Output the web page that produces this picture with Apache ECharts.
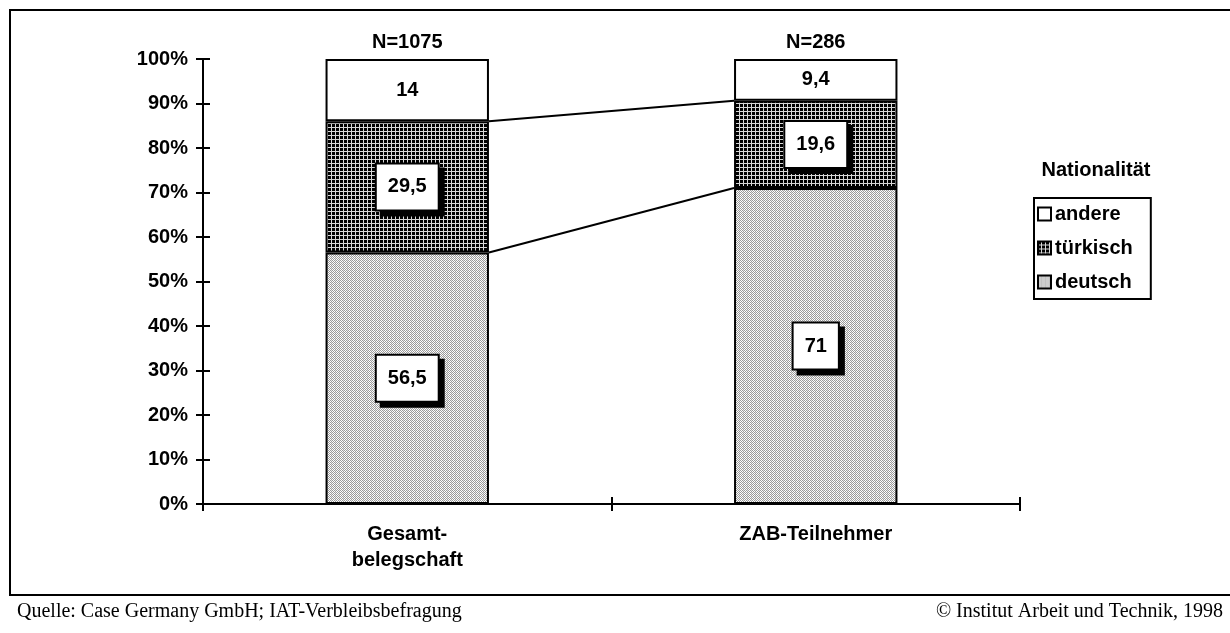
<!DOCTYPE html>
<html>
<head>
<meta charset="utf-8">
<script src="https://cdn.jsdelivr.net/npm/echarts@6/dist/echarts.min.js"></script>
<style>
html,body{margin:0;padding:0;background:#fff;}
#chart{width:1230px;height:633px;}
</style>
</head>
<body>
<div id="chart"></div>
<script>
// ---- data ----
const categories = ['Gesamt-\nbelegschaft', 'ZAB-Teilnehmer'];
const nLabels = ['N=1075', 'N=286'];
const deutsch = [56.5, 71];
const tuerkisch = [29.5, 19.6];
const andere = [14, 9.4];
const legendTitle = 'Nationalität';
const sourceText = 'Quelle: Case Germany GmbH; IAT-Verbleibsbefragung';
const copyrightText = '© Institut Arbeit und Technik, 1998';

// ---- patterns ----
function makePattern(draw) {
  const c = document.createElement('canvas');
  c.width = 4; c.height = 4;
  const ctx = c.getContext('2d');
  draw(ctx);
  return { image: c, repeat: 'repeat' };
}
const patDeutsch = makePattern(ctx => {
  ctx.fillStyle = '#ffffff'; ctx.fillRect(0, 0, 4, 4);
  ctx.fillStyle = '#9a9a9a';
  const pts = [[0,0],[2,0],[1,1],[3,1],[0,2],[2,2],[1,3],[3,3]];
  pts.forEach(p => ctx.fillRect(p[0], p[1], 1, 1));
  ctx.fillStyle = '#e6e6e6';
  ctx.fillRect(3, 0, 1, 1); ctx.fillRect(3, 2, 1, 1);
});
const patTuerk = makePattern(ctx => {
  ctx.fillStyle = '#000000'; ctx.fillRect(0, 0, 4, 4);
  ctx.fillStyle = '#d8d8d8';
  ctx.fillRect(3, 0, 1, 4);
  ctx.fillRect(0, 3, 4, 1);
});

const FONT = '"Liberation Sans", Arial, sans-serif';
const FS = 20;
const fmt = v => String(v).replace('.', ',');
const boxLabel = {
  show: true, position: 'inside',
  formatter: p => fmt(p.value),
  fontFamily: FONT, fontWeight: 'bold', fontSize: FS, color: '#000', lineHeight: 20,
  backgroundColor: '#fff', borderColor: '#000', borderWidth: 2,
  padding: [13, 11, 12, 11],
  shadowColor: '#000', shadowBlur: 0, shadowOffsetX: 5, shadowOffsetY: 5
};
const barItem = (color) => ({ color: color, borderColor: '#000', borderWidth: 2 });
const BAR_FRAC = 0.4;

const connectors = [
  [0, deutsch[0], deutsch[1]],
  [0, deutsch[0] + tuerkisch[0], deutsch[1] + tuerkisch[1]]
];

const chart = echarts.init(document.getElementById('chart'), null, { renderer: 'canvas' });
chart.setOption({
  animation: false,
  backgroundColor: '#fff',
  title: {
    text: legendTitle, left: 1096, top: 160, textAlign: 'center', padding: 0,
    textStyle: { fontFamily: FONT, fontWeight: 'bold', fontSize: FS, color: '#000' }
  },
  legend: {
    data: ['andere', 'türkisch', 'deutsch'],
    orient: 'vertical', left: 1034, top: 198, icon: 'rect',
    borderColor: '#000', borderWidth: 2, padding: [5, 18, 6, 3],
    itemWidth: 13, itemHeight: 13, itemGap: 12,
    textStyle: { fontFamily: FONT, fontWeight: 'bold', fontSize: FS, color: '#000', lineHeight: 22, padding: [0, 0, 0, -1] }
  },
  grid: { left: 203, right: 210, top: 59, bottom: 129 },
  xAxis: [
    {
      type: 'category', data: categories, position: 'bottom',
      axisLine: { lineStyle: { color: '#000', width: 2 } },
      axisTick: { show: true, length: 7, lineStyle: { color: '#000', width: 2 } },
      axisLabel: { fontFamily: FONT, fontWeight: 'bold', fontSize: FS, color: '#000', margin: 17, lineHeight: 26 }
    },
    {
      type: 'category', data: categories, position: 'bottom',
      axisLine: { show: false },
      axisTick: { show: true, inside: true, length: 7, lineStyle: { color: '#000', width: 2 } },
      axisLabel: { show: false }
    }
  ],
  yAxis: [
    {
      type: 'value', min: 0, max: 100, interval: 10,
      axisLine: { show: true, lineStyle: { color: '#000', width: 2 } },
      axisTick: { show: true, length: 7, lineStyle: { color: '#000', width: 2 } },
      splitLine: { show: false },
      axisLabel: { formatter: v => v + '%', fontFamily: FONT, fontWeight: 'bold', fontSize: FS, color: '#000', margin: 15 }
    },
    {
      type: 'value', min: 0, max: 100, interval: 10, position: 'left',
      axisLine: { show: false },
      axisTick: { show: true, inside: true, length: 7, lineStyle: { color: '#000', width: 2 } },
      splitLine: { show: false },
      axisLabel: { show: false }
    }
  ],
  series: [
    {
      name: 'deutsch', type: 'bar', stack: 'total', barWidth: (BAR_FRAC * 100) + '%',
      data: deutsch, itemStyle: barItem(patDeutsch), label: boxLabel
    },
    {
      name: 'türkisch', type: 'bar', stack: 'total',
      data: tuerkisch, itemStyle: barItem(patTuerk), label: boxLabel
    },
    {
      name: 'andere', type: 'bar', stack: 'total',
      data: andere, itemStyle: barItem('#fff'),
      label: { show: true, position: 'inside', formatter: p => fmt(p.value),
        fontFamily: FONT, fontWeight: 'bold', fontSize: FS, color: '#000' }
    },
    {
      name: 'N', type: 'bar', stack: 'total',
      data: nLabels.map(() => 0),
      itemStyle: { color: 'rgba(0,0,0,0)', borderWidth: 0 },
      label: { show: true, position: 'top', distance: 7, formatter: p => nLabels[p.dataIndex],
        fontFamily: FONT, fontWeight: 'bold', fontSize: FS, color: '#000' },
      silent: true
    },
    {
      name: 'connectors', type: 'custom', silent: true, z: 5,
      dimensions: ['x', 'from', 'to'],
      encode: { x: 0, y: [1, 2] },
      data: connectors,
      renderItem: (params, api) => {
        const bw = api.size([1, 0])[0] * BAR_FRAC;
        const a = api.coord([0, api.value(1)]);
        const b = api.coord([1, api.value(2)]);
        return {
          type: 'line',
          shape: { x1: a[0] + bw / 2, y1: a[1], x2: b[0] - bw / 2, y2: b[1] },
          style: { stroke: '#000', lineWidth: 2 }
        };
      }
    }
  ],
  graphic: [
    { type: 'rect', shape: { x: 10, y: 10, width: 1240, height: 585 },
      style: { fill: 'none', stroke: '#000', lineWidth: 2 }, z: 100 },
    { type: 'text', left: 17, top: 602,
      style: { text: sourceText, font: '20px "Liberation Serif"', fill: '#000' } },
    { type: 'text', right: 7, top: 602,
      style: { text: copyrightText, font: '20px "Liberation Serif"', fill: '#000' } }
  ]
});
</script>
</body>
</html>
